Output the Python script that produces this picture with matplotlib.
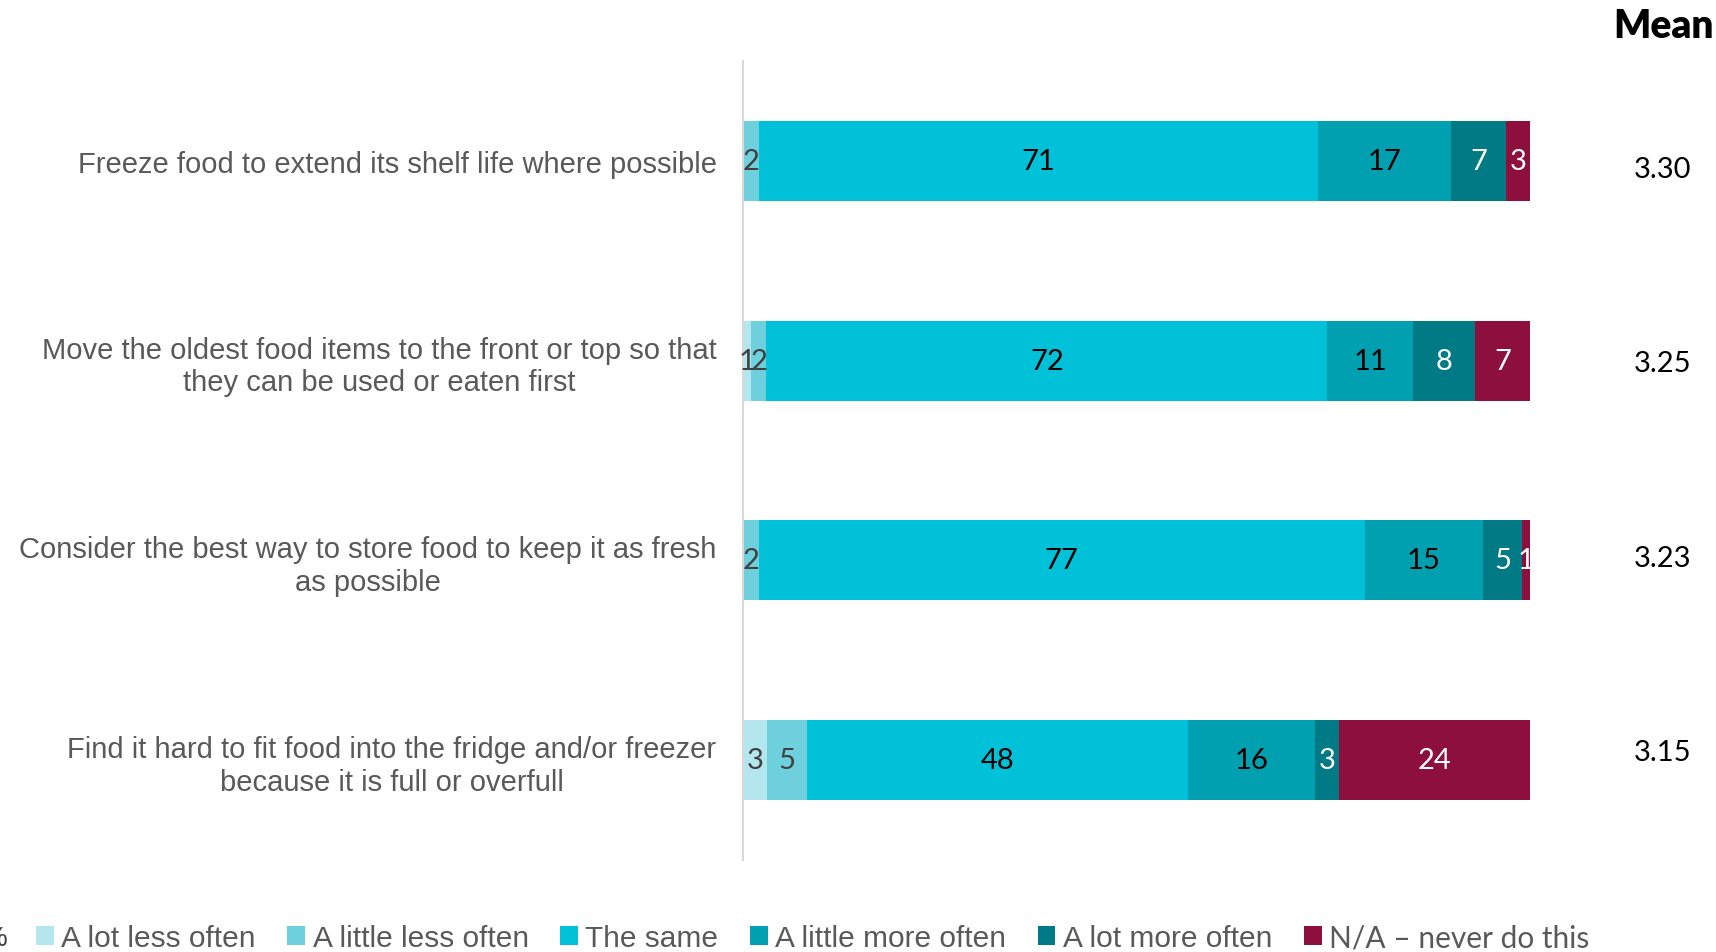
import matplotlib
matplotlib.use("Agg")
import matplotlib.pyplot as plt
from matplotlib.patches import Patch
import numpy as np

# Survey statements (top to bottom)
statements = [
    "Freeze food to extend its shelf life where possible",
    "Move the oldest food items to the front or top so that\nthey can be used or eaten first",
    "Consider the best way to store food to keep it as fresh\nas possible",
    "Find it hard to fit food into the fridge and/or freezer\nbecause it is full or overfull",
]

# Response categories
responses = [
    "A lot less often",
    "A little less often",
    "The same",
    "A little more often",
    "A lot more often",
    "N/A \u2013 never do this",
]

# Percentages per response, one list per response category
a_lot_less = [0, 1, 0, 3]
a_little_less = [2, 2, 2, 5]
the_same = [71, 72, 77, 48]
a_little_more = [17, 11, 15, 16]
a_lot_more = [7, 8, 5, 3]
never = [3, 7, 1, 24]

means = ["3.30", "3.25", "3.23", "3.15"]

series = [a_lot_less, a_little_less, the_same, a_little_more, a_lot_more, never]
colors = ["#B3E7ED", "#6ECFDD", "#00C1D7", "#00A0B0", "#007A85", "#8C0F3E"]
label_colors = ["#404040", "#404040", "#000000", "#000000", "#FFFFFF", "#FFFFFF"]

narrow = ["Liberation Sans Narrow", "Liberation Sans", "DejaVu Sans"]
rounded = ["Lato", "DejaVu Sans"]
gray = "#595959"

W, H = 1716, 953
fig = plt.figure(figsize=(W / 100, H / 100), dpi=100)
ax = fig.add_axes([743 / W, 1 - 861 / H, 787 / W, 799 / H])

# 100% stacked bars: each row is scaled to its own total
data = np.array(series, dtype=float)
totals = data.sum(axis=0)
shares = data / totals * 100

y = np.arange(len(statements))
left = np.zeros(len(statements))
for vals, shr, col, tcol in zip(data, shares, colors, label_colors):
    ax.barh(y, shr, left=left, height=0.4, color=col, edgecolor="none")
    for yi, v, s, l in zip(y, vals, shr, left):
        if v > 0:
            ax.text(l + s / 2, yi, f"{int(v)}", ha="center", va="center",
                    fontsize=21, color=tcol, family=rounded)
    left += shr

ax.set_xlim(0, 100)
ax.set_ylim(len(statements) - 0.5, -0.5)
for s in ["top", "right", "bottom"]:
    ax.spines[s].set_visible(False)
ax.spines["left"].set_color("#D9D9D9")
ax.spines["left"].set_linewidth(1.5)
ax.set_xticks([])
ax.set_yticks(y)
ax.set_yticklabels(statements, family=narrow, fontsize=21, color=gray,
                   multialignment="center")
ax.tick_params(axis="y", length=0, pad=19)

# Mean column
fig.text(1663 / W, 1 - 27 / H, "Mean", ha="center", va="center",
         fontsize=28, fontweight="heavy", family=rounded, color="black")
for m, py in zip(means, np.linspace(170, 753, len(means))):
    fig.text(1663 / W, 1 - py / H, m, ha="center", va="center",
             fontsize=21, family=rounded, color="black")

# Legend
handles = [Patch(facecolor=c, edgecolor="none") for c in colors]
leg = fig.legend(handles, responses, loc="center left",
                 bbox_to_anchor=(24 / W, 1 - 939 / H), ncol=6, frameon=False,
                 prop={"family": narrow, "size": 21.5},
                 handlelength=0.6, handleheight=0.6, handletextpad=0.25,
                 columnspacing=1.05, borderaxespad=0)
for t in leg.get_texts():
    t.set_color(gray)
leg.get_texts()[-1].set_fontfamily(rounded)

fig.text(-17 / W, 1 - 939 / H, "%", ha="left", va="center",
         fontsize=20, family=narrow, color="#404040")

fig.savefig("out.png", dpi=100)
